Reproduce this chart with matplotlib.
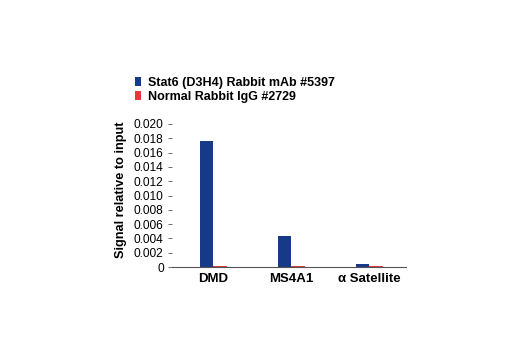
import matplotlib
matplotlib.use("Agg")
import matplotlib.pyplot as plt
import numpy as np

# Values
targets = ['DMD', 'MS4A1', 'α Satellite']
stat6 = [0.0176, 0.0043, 0.0004]
igg = [0.0001, 0.0001, 0.0001]
series_names = ['Stat6 (D3H4) Rabbit mAb #5397', 'Normal Rabbit IgG #2729']
yticks = [0, 0.002, 0.004, 0.006, 0.008, 0.010, 0.012, 0.014, 0.016, 0.018, 0.020]
ytick_labels = ['0', '0.002', '0.004', '0.006', '0.008', '0.010', '0.012',
                '0.014', '0.016', '0.018', '0.020']

BLUE = '#163a88'
RED = '#e23a3a'
FONT = ['Liberation Sans', 'DejaVu Sans']

plt.rcParams['font.family'] = FONT

fig = plt.figure(figsize=(5.2, 3.5), dpi=100)
ax = fig.add_axes([172 / 520, 1 - 267 / 350, 234 / 520, 143 / 350])

x = np.arange(len(targets))
w = 0.175
ax.bar(x - w / 2, stat6, width=w, color=BLUE, label=series_names[0])
ax.bar(x + w / 2, igg, width=w, color=RED, label=series_names[1])

ax.set_xlim(-0.53, 2.47)
ax.set_ylim(0, 0.020)
ax.set_yticks(yticks)
ax.set_yticklabels(ytick_labels, fontsize=8.6)
ax.set_xticks(x)
ax.set_xticklabels(targets, fontsize=9.5, fontweight='bold')
ax.tick_params(axis='x', length=0, pad=4)
ax.tick_params(axis='y', length=3, width=0.6, color='#555555', pad=3)

for s in ['top', 'right', 'left']:
    ax.spines[s].set_visible(False)
ax.spines['bottom'].set_color('#555555')
ax.spines['bottom'].set_linewidth(0.8)

fig.text(121 / 520, 1 - 189.5 / 350, 'Signal relative to input', rotation=90,
         ha='center', va='center', fontsize=9.2, fontweight='bold')

# legend in figure coordinates above the axes
handles, labels = ax.get_legend_handles_labels()
fig.legend(handles, labels, loc='upper left', bbox_to_anchor=(135 / 520, 1 - 77 / 350),
           frameon=False, prop={'weight': 'bold', 'size': 9},
           handlelength=0.5, handleheight=0.75, handletextpad=0.55, labelspacing=0.15,
           borderaxespad=0, borderpad=0)

fig.savefig('out.png', dpi=100)
